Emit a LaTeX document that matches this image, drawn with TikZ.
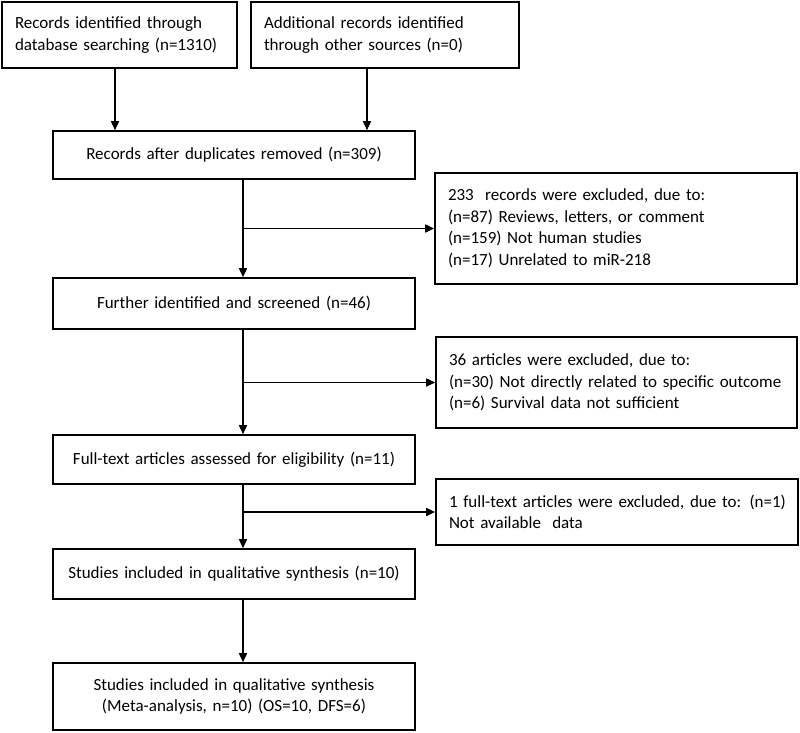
\documentclass[tikz,border=0pt]{standalone}
\usepackage{fontspec}
\setmainfont{Carlito}
\usetikzlibrary{arrows.meta}

\tikzset{
	box/.style={draw,line width=1.6pt,inner xsep=13pt,inner ysep=0pt,
		font=\fontsize{17}{21.5}\selectfont},
	flow/.style={line width=1.6pt,-{Triangle[length=9pt,width=8pt]}}
}

\begin{document}
\begin{tikzpicture}[x=1pt,y=-1pt]
	\useasboundingbox (0,0) rectangle (800,732);
	% identification
	\node[box,align=left,text width=209pt,minimum height=66pt] (db) at (119.5,35)
		{Records identified through\\database searching (n=1310)};
	\node[box,align=left,text width=242pt,minimum height=66pt] (other) at (385,35)
		{Additional records identified\\through other sources (n=0)};
	% main column
	\node[box,align=center,text width=336pt,minimum height=48pt] (rec) at (234,155)
		{Records after duplicates removed (n=309)};
	\node[box,align=center,text width=336pt,minimum height=51pt] (scr) at (234,303.5)
		{Further identified and screened (n=46)};
	\node[box,align=center,text width=336pt,minimum height=49pt] (full) at (234,459.5)
		{Full-text articles assessed for eligibility (n=11)};
	\node[box,align=center,text width=336pt,minimum height=50pt] (qual) at (234,574)
		{Studies included in qualitative synthesis (n=10)};
	\node[box,align=center,text width=336pt,minimum height=67pt] (meta) at (234,696.5)
		{Studies included in qualitative synthesis\\(Meta-analysis, n=10) (OS=10, DFS=6)};
	% exclusions
	\node[box,align=left,text width=336pt,minimum height=111pt] (exA) at (616,228.5)
		{233~ records were excluded, due to:\\(n=87) Reviews, letters, or comment\\(n=159) Not human studies\\(n=17) Unrelated to miR-218};
	\node[box,align=left,text width=335pt,minimum height=91pt] (exB) at (616.5,382.5)
		{36 articles were excluded, due to:\\(n=30) Not directly related to specific outcome\\(n=6) Survival data not sufficient};
	\node[box,align=left,text width=336pt,minimum height=66pt] (exC) at (617,512)
		{\mbox{1 full-text articles were excluded, due to: (n=1)}\\Not available~ data};

	\coordinate (colA) at (115,0);
	\coordinate (colB) at (367,0);
	\coordinate (spine) at (243,0);
	\coordinate (brA) at (spine |- exA.west);
	\coordinate (brB) at (spine |- exB.west);
	\coordinate (brC) at (spine |- exC.west);

	\draw[flow] (db.south -| colA) -- (rec.north -| colA);
	\draw[flow] (other.south -| colB) -- (rec.north -| colB);
	\draw[flow] (rec.south -| spine) -- (scr.north -| spine);
	\draw[flow] (scr.south -| spine) -- (full.north -| spine);
	\draw[flow] (full.south -| spine) -- (qual.north -| spine);
	\draw[flow] (qual.south -| spine) -- (meta.north -| spine);
	\draw[flow] (brA) -- (exA.west);
	\draw[flow] (brB) -- (exB.west);
	\draw[flow] (brC) -- (exC.west);
\end{tikzpicture}
\end{document}
